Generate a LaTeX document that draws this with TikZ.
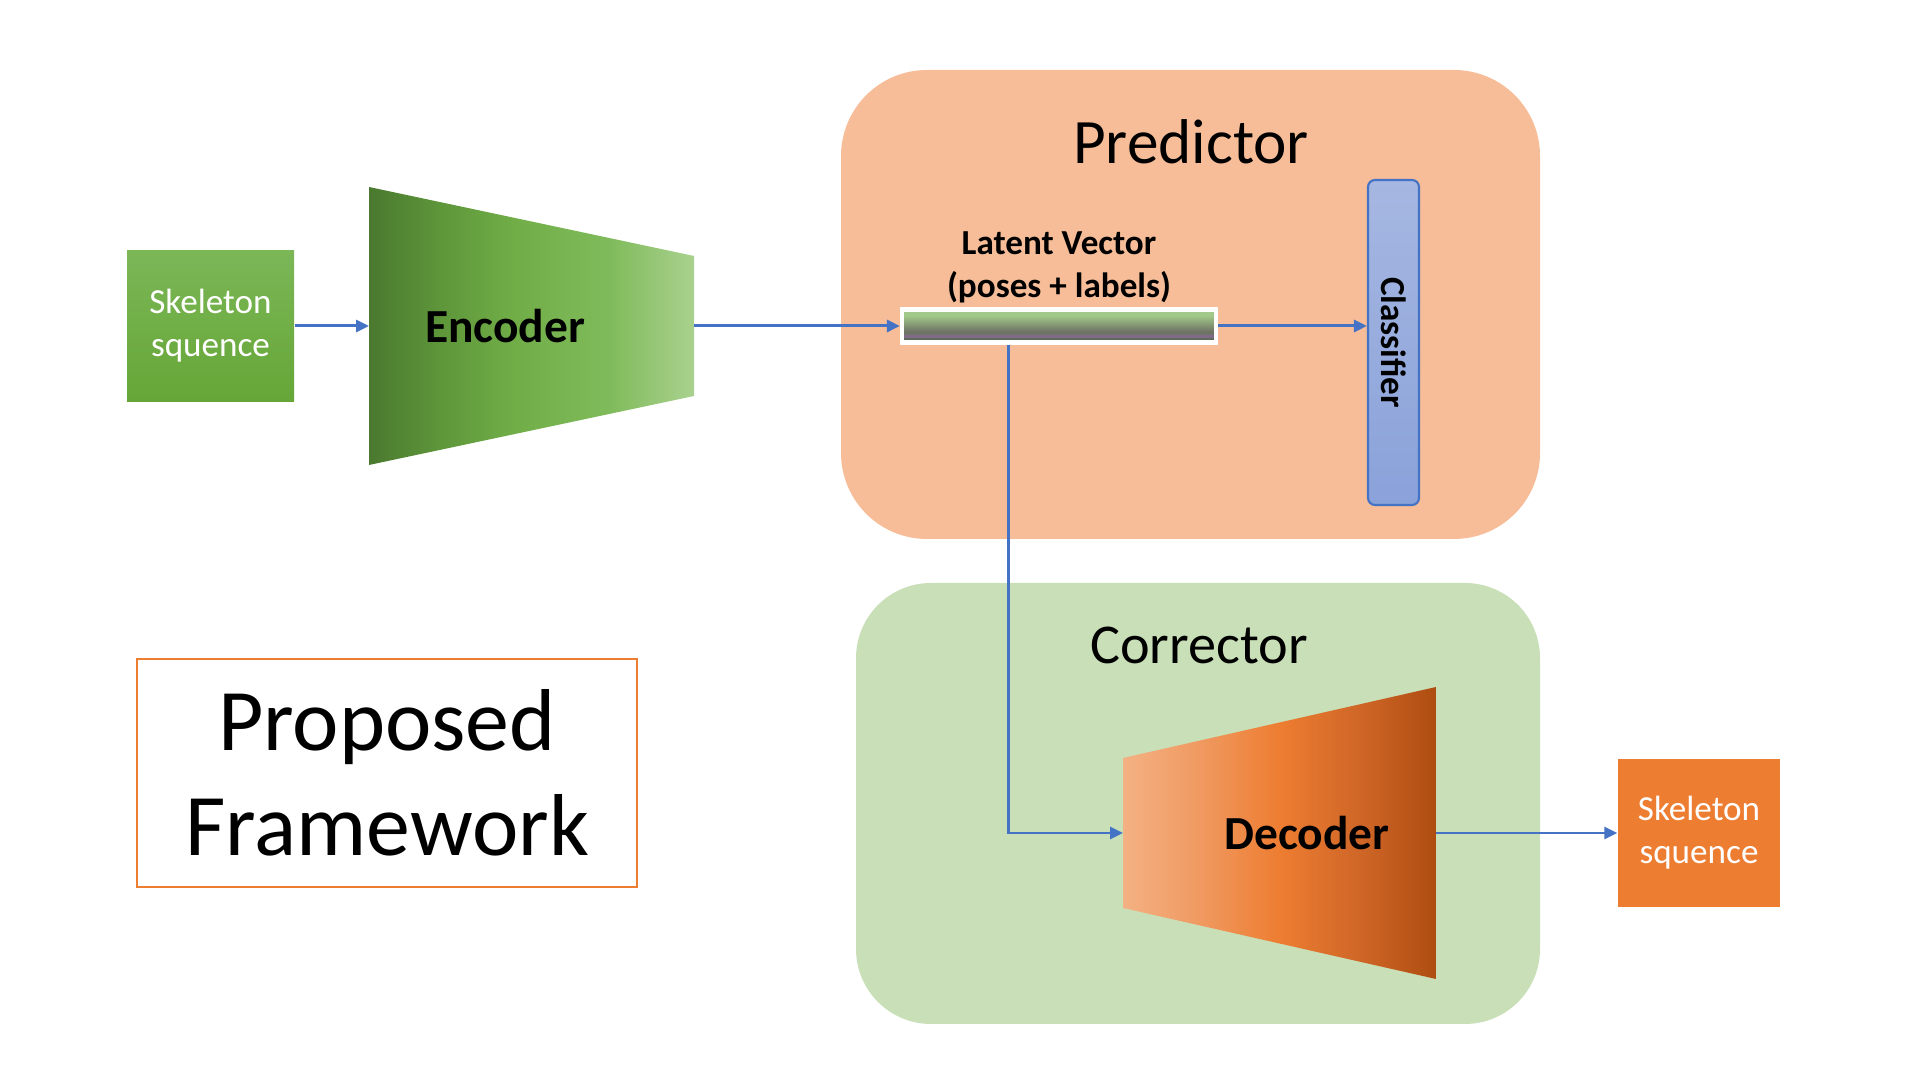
\documentclass[tikz,border=0pt]{standalone}
\usepackage{fontspec}
\setmainfont{Carlito}
\usetikzlibrary{arrows.meta,positioning,calc}

\definecolor{predfill}{HTML}{F6BD98}
\definecolor{corrfill}{HTML}{C9DFB8}
\definecolor{flowblue}{HTML}{4472C4}
\definecolor{skeltop}{HTML}{7BB757}
\definecolor{skelbot}{HTML}{66A637}
\definecolor{skelorange}{HTML}{ED7D31}
\definecolor{clstop}{HTML}{A6B7E1}
\definecolor{clsbot}{HTML}{8AA2DA}
\definecolor{encA}{HTML}{4A792F}
\definecolor{encB}{HTML}{5E963A}
\definecolor{encC}{HTML}{70AD47}
\definecolor{encD}{HTML}{80BB5B}
\definecolor{encE}{HTML}{A9D18E}
\definecolor{decA}{HTML}{F4B183}
\definecolor{decB}{HTML}{F09A62}
\definecolor{decC}{HTML}{ED7D31}
\definecolor{decD}{HTML}{CF6627}
\definecolor{decE}{HTML}{AE4C10}
\definecolor{latgreen}{HTML}{A3C98A}
\definecolor{latgray}{HTML}{6E7465}
\definecolor{latpurp}{HTML}{81698A}
\definecolor{latbot}{HTML}{5E6B58}

\pgfdeclarehorizontalshading{encodershade}{100bp}{color(0bp)=(encA); color(25bp)=(encA);
  color(36bp)=(encB); color(47bp)=(encC); color(62bp)=(encD); color(75bp)=(encE); color(100bp)=(encE)}
\pgfdeclarehorizontalshading{decodershade}{100bp}{color(0bp)=(decA); color(25bp)=(decA);
  color(37bp)=(decB); color(50bp)=(decC); color(63bp)=(decD); color(75bp)=(decE); color(100bp)=(decE)}
\pgfdeclareverticalshading{latentshade}{100bp}{color(0bp)=(latbot); color(25bp)=(latbot);
  color(32bp)=(latbot); color(33bp)=(latpurp); color(37bp)=(latpurp); color(38bp)=(latgray);
  color(42bp)=(latgray); color(66bp)=(latgreen); color(100bp)=(latgreen)}

\begin{document}
\begin{tikzpicture}[
    flow/.style={draw=flowblue, line width=0.85pt, -{Triangle[length=1.3mm,width=1.2mm]}},
    skelbox/.style={minimum width=1.67cm, minimum height=1.51cm, inner sep=0pt,
      text=white, align=center, font=\fontsize{10}{12.2}\selectfont},
    blocklabel/.style={font=\bfseries\fontsize{13.5}{16}\selectfont},
  ]
  \useasboundingbox (0,0) rectangle (19.2,10.8);

  \fill[predfill, rounded corners=0.86cm] (8.41,5.41) rectangle (15.40,10.10);
  \node[font=\fontsize{18}{21}\selectfont] (predtitle) at (11.91,9.38) {Predictor};
  \fill[corrfill, rounded corners=0.75cm] (8.56,0.56) rectangle (15.40,4.97);
  \node[font=\fontsize{16}{19}\selectfont] (corrtitle) at (11.99,4.35) {Corrector};

  \node[skelbox, top color=skeltop, bottom color=skelbot] (skelin) at (2.105,7.54) {Skeleton\\squence};

  \shade[shading=encodershade] (3.69,8.93) -- (6.94,8.24) -- (6.94,6.84) -- (3.69,6.15) -- cycle;
  \coordinate (encin) at (3.69,7.54);
  \coordinate (encout) at (6.94,7.54);
  \node[blocklabel] (enc) at (5.05,7.54) {Encoder};

  \node[draw=white, line width=1.2pt, shading=latentshade, minimum width=3.14cm,
    minimum height=0.33cm, inner sep=0pt] (latent) at (10.59,7.54) {};
  \node[align=center, font=\bfseries\fontsize{10}{12.2}\selectfont] (latenttext)
    at (10.59,8.13) {Latent Vector\\(poses + labels)};

  \node[draw=flowblue, line width=0.6pt, rounded corners=0.07cm, top color=clstop,
    bottom color=clsbot, minimum width=0.51cm, minimum height=3.25cm, inner sep=0pt] (cls) at (13.935,7.375) {};
  \node[rotate=-90, font=\bfseries\fontsize{10}{12}\selectfont] (clstext) at (cls.center) {Classifier};

  \shade[shading=decodershade] (11.23,3.22) -- (14.36,3.93) -- (14.36,1.01) -- (11.23,1.72) -- cycle;
  \coordinate (decin) at (11.23,2.47);
  \coordinate (decout) at (14.36,2.47);
  \node[blocklabel] (dec) at (13.07,2.47) {Decoder};

  \node[skelbox, fill=skelorange, minimum width=1.62cm, minimum height=1.48cm] (skelout)
    at (16.99,2.47) {Skeleton\\squence};

  \draw[flow] (skelin.east) -- (encin);
  \draw[flow] (encout) -- (latent.west);
  \draw[flow] (latent.east) -- (latent.east -| cls.west);
  \draw[flow] ($(latent.south west)!0.34!(latent.south east)$) |- (decin);
  \draw[flow] (decout) -- (skelout.west);

  \node[draw=skelorange, line width=0.6pt, minimum width=5cm, minimum height=2.28cm,
    align=center, font=\fontsize{25}{30}\selectfont] (framework) at (3.87,3.07) {Proposed\\Framework};
\end{tikzpicture}
\end{document}
